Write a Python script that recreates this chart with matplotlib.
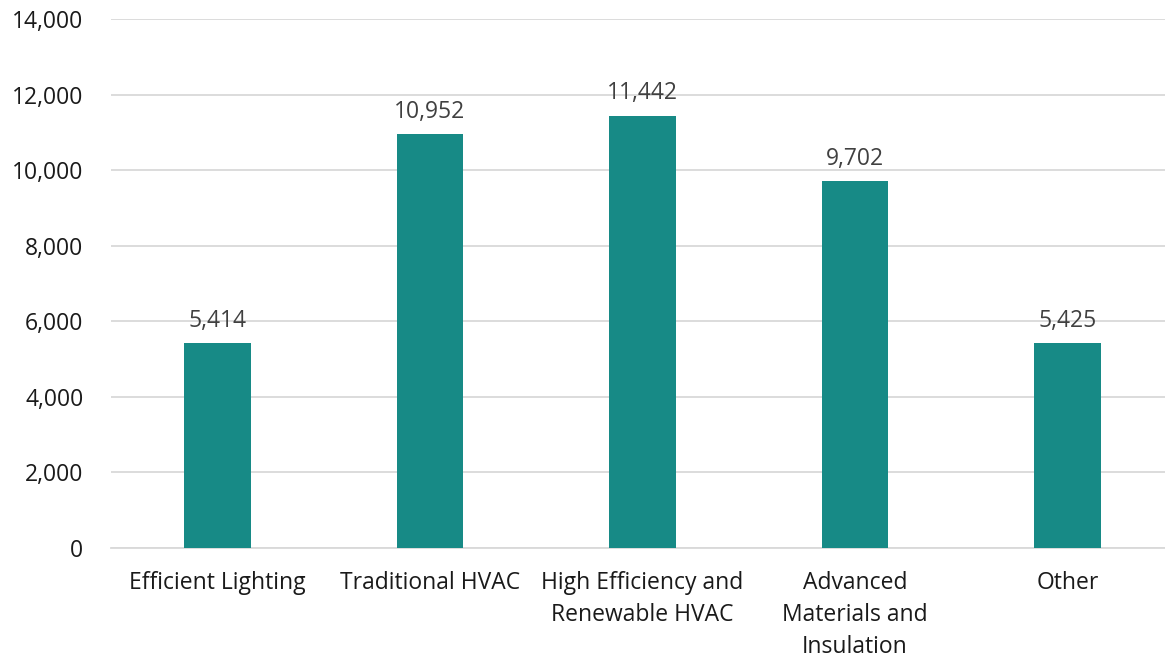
import matplotlib
matplotlib.use("Agg")
import matplotlib.pyplot as plt
from matplotlib.ticker import FuncFormatter

categories = ["Efficient Lighting", "Traditional HVAC", "High Efficiency and\nRenewable HVAC",
              "Advanced\nMaterials and\nInsulation", "Other"]
values = [5414, 10952, 11442, 9702, 5425]
yticks = [0, 2000, 4000, 6000, 8000, 10000, 12000, 14000]

plt.rcParams['font.family'] = ['Open Sans', 'DejaVu Sans']

W, H = 1165, 658
fig = plt.figure(figsize=(W / 100, H / 100), dpi=100)
left, right = 111.25, 1173.75
top, bottom = 19, 548
ax = fig.add_axes([left / W, 1 - bottom / H, (right - left) / W, (bottom - top) / H])

FS = 16.5
x = list(range(len(categories)))
bars = ax.bar(x, values, width=0.313, color="#178A86", zorder=3)
ax.set_xlim(-0.5, len(categories) - 0.5)
ax.set_ylim(0, 14000)
ax.set_yticks(yticks)
ax.yaxis.set_major_formatter(FuncFormatter(lambda v, p: f"{int(v):,}"))
ax.grid(axis="y", color="#D9D9D9", linewidth=1.3, zorder=0)
for s in ["top", "right", "left"]:
    ax.spines[s].set_visible(False)
ax.spines["bottom"].set_color("#D9D9D9")
ax.spines["bottom"].set_linewidth(1.3)
ax.tick_params(axis="both", length=0, labelsize=FS, colors="#1a1a1a")
ax.tick_params(axis="y", pad=20)
ax.tick_params(axis="x", pad=16.5)
ax.set_xticks(x)
ax.set_xticklabels(categories, linespacing=1.46, va="top")

for xi, v in zip(x, values):
    ax.annotate(f"{v:,}", (xi, v), xytext=(0, 7.5), textcoords="offset points",
                ha="center", va="bottom", fontsize=FS, color="#404040")

fig.savefig("out.png", dpi=100)
